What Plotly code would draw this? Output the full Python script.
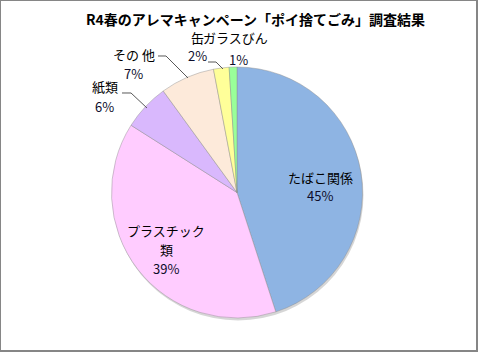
import plotly.graph_objects as go

W, H = 478, 352

# ---- data ----
categories = ["たばこ関係", "プラスチック類", "紙類", "その 他", "缶", "ガラスびん"]
label_lines = [["たばこ関係"], ["プラスチック", "類"], ["紙類"], ["その 他"], ["缶"], ["ガラスびん"]]
values = [45, 39, 6, 7, 2, 1]
colors = ["#8EB4E3", "#FFCCFF", "#D9B8FD", "#FDEADA", "#FFFF99", "#99FF99"]
title_text = "R4春のアレマキャンペーン「ポイ捨てごみ」調査結果"

# ---- layout helpers (pixel positions) ----
cx, cy, r = 237, 192.5, 125.5
def px(x, y):
    return x / W, 1 - y / H

# label positions: (name_center_x, first_line_y, pct_x, pct_y)
label_pos = [
    (320, 177, 320, 196),
    (166, 230, 166, 268),
    (105, 86, 104, 106),
    (134, 54, 133, 73),
    (197, 38, 197, 56),
    (235, 38, 238, 60),
]
line_gap = 19

leaders = [
    [(208, 62), (216, 62), (223, 69)],
    [(158, 56), (166, 56), (188, 78)],
    [(122, 93), (131, 93), (147, 108)],
]

FONT = "Noto Sans CJK JP"

fig = go.Figure()

# soft shadow under the pie
fig.add_trace(go.Pie(
    values=[1], labels=["shadow"], sort=False,
    marker=dict(colors=["rgba(0,0,0,0.16)"], line=dict(width=0)),
    textinfo="none", hoverinfo="skip", showlegend=False,
    domain=dict(x=[(cx - r + 1) / W, (cx + r + 1) / W],
                y=[(H - cy - r - 2.5) / H, (H - cy + r - 2.5) / H]),
))

fig.add_trace(go.Pie(
    labels=categories, values=values, sort=False, direction="clockwise",
    rotation=0,
    marker=dict(colors=colors, line=dict(color="rgba(140,140,140,0.55)", width=0.8)),
    textinfo="none", showlegend=False,
    domain=dict(x=[(cx - r) / W, (cx + r) / W],
                y=[(H - cy - r) / H, (H - cy + r) / H]),
))

annotations = []
total = sum(values)
for lines, v, (nx, ny, qx, qy) in zip(label_lines, values, label_pos):
    for i, ln in enumerate(lines):
        x, y = px(nx, ny + i * line_gap)
        annotations.append(dict(x=x, y=y, xref="paper", yref="paper", text=ln,
                                showarrow=False, xanchor="center", yanchor="middle",
                                font=dict(family=FONT, size=13, color="#000000")))
    x, y = px(qx, qy)
    annotations.append(dict(x=x, y=y, xref="paper", yref="paper",
                            text=f"{round(v / total * 100)}%",
                            showarrow=False, xanchor="center", yanchor="middle",
                            font=dict(family=FONT, size=13, color="#0d0d2b")))

tx, ty = px(255.5, 19)
annotations.append(dict(x=tx, y=ty, xref="paper", yref="paper",
                        text=f"<b>{title_text}</b>", showarrow=False,
                        xanchor="center", yanchor="middle",
                        font=dict(family=FONT, size=14, color="#000000")))

shapes = []
for pts in leaders:
    path = ""
    for j, (x, y) in enumerate(pts):
        X, Y = px(x, y)
        path += ("M" if j == 0 else " L") + f" {X:.5f} {Y:.5f}"
    shapes.append(dict(type="path", path=path, xref="paper", yref="paper",
                       line=dict(color="#595959", width=1)))

shapes.append(dict(type="rect", xref="paper", yref="paper",
                   x0=0, y0=1 - 351 / H, x1=477 / W, y1=1,
                   line=dict(color="#868686", width=2)))

fig.update_layout(
    width=W, height=H,
    margin=dict(l=0, r=0, t=0, b=0),
    paper_bgcolor="white", plot_bgcolor="white",
    annotations=annotations, shapes=shapes,
    showlegend=False,
)

fig.write_html("out.html")
